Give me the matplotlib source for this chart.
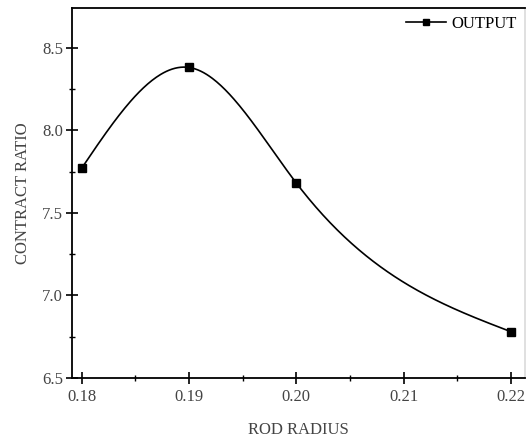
import numpy as np
import matplotlib.pyplot as plt
from matplotlib.ticker import MultipleLocator

# data
rod_radius = np.array([0.18, 0.19, 0.20, 0.22])
contract_ratio = np.array([7.77, 8.38, 7.68, 6.78])


# natural cubic spline through the points (smooth line like Origin's)
def natural_spline(x, y, xs):
    n = len(x)
    h = np.diff(x)
    A = np.zeros((n, n))
    b = np.zeros(n)
    A[0, 0] = 1
    A[-1, -1] = 1
    for i in range(1, n - 1):
        A[i, i - 1] = h[i - 1]
        A[i, i] = 2 * (h[i - 1] + h[i])
        A[i, i + 1] = h[i]
        b[i] = 6 * ((y[i + 1] - y[i]) / h[i] - (y[i] - y[i - 1]) / h[i - 1])
    M = np.linalg.solve(A, b)
    out = np.zeros_like(xs)
    for k, xv in enumerate(xs):
        i = min(np.searchsorted(x, xv) - 1, n - 2)
        i = max(i, 0)
        t1 = x[i + 1] - xv
        t0 = xv - x[i]
        out[k] = (M[i] * t1**3 / (6 * h[i]) + M[i + 1] * t0**3 / (6 * h[i])
                  + (y[i] / h[i] - M[i] * h[i] / 6) * t1
                  + (y[i + 1] / h[i] - M[i + 1] * h[i] / 6) * t0)
    return out


plt.rcParams['font.family'] = 'Liberation Serif'

fig = plt.figure(figsize=(5.27, 4.37), dpi=100)
ax = fig.add_axes([72 / 527, 59 / 437, 453 / 527, 370 / 437])

xs = np.linspace(rod_radius[0], rod_radius[-1], 300)
ax.plot(xs, natural_spline(rod_radius, contract_ratio, xs), color='black', lw=1.2)
ax.plot(rod_radius, contract_ratio, 's', color='black', ms=6)
ax.plot([], [], '-s', color='black', ms=5, lw=1.2, label='OUTPUT')

ax.set_xlim(0.1791, 0.2213)
ax.set_ylim(6.5, 8.74)
ax.xaxis.set_minor_locator(MultipleLocator(0.005))
ax.yaxis.set_major_locator(MultipleLocator(0.5))
ax.yaxis.set_minor_locator(MultipleLocator(0.25))
ax.set_xticks([0.18, 0.19, 0.20, 0.21, 0.22])
ax.set_xticklabels(['0.18', '0.19', '0.20', '0.21', '0.22'])
ax.tick_params(which='major', direction='inout', length=9, width=1.2, labelsize=12,
               labelcolor='#444444', top=False, right=False)
ax.tick_params(which='minor', direction='inout', length=5, width=1.0, top=False, right=False)
ax.tick_params(axis='y', pad=2)
for s in ax.spines.values():
    s.set_linewidth(1.3)
ax.spines['right'].set_color('#dddddd')

ax.set_xlabel('ROD RADIUS', fontsize=12, color='#444444', labelpad=12)
ax.set_ylabel('CONTRACT RATIO', fontsize=12, color='#444444', labelpad=8)

ax.legend(loc='upper right', frameon=False, fontsize=12, handlelength=2.4,
          borderaxespad=0.1, handletextpad=0.3)

fig.savefig('out.png', dpi=100)
